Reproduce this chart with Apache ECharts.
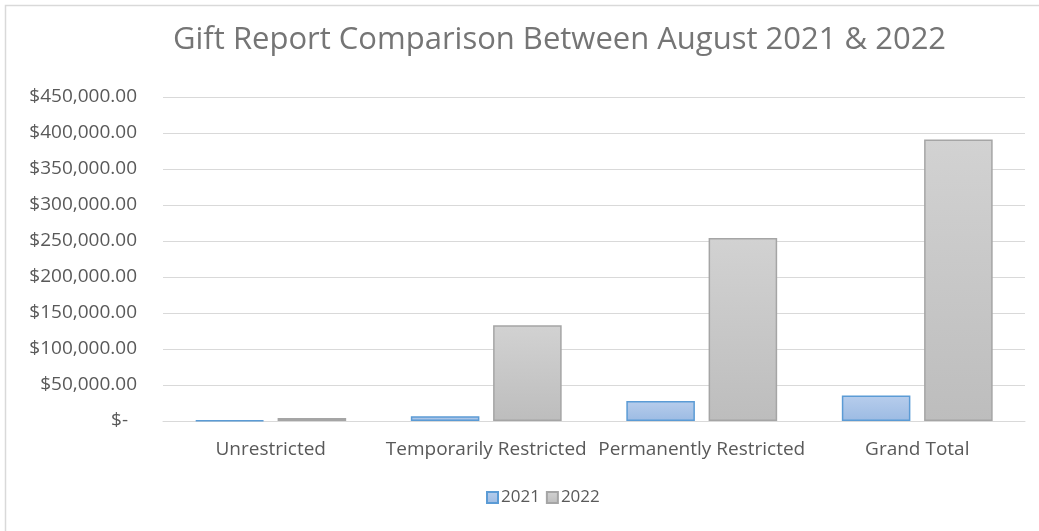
<!DOCTYPE html>
<html>
<head>
<meta charset="utf-8">
<script src="https://cdn.jsdelivr.net/npm/echarts@6/dist/echarts.min.js"></script>
<style>
  html, body { margin: 0; padding: 0; background: #fff; }
  #main { width: 1039px; height: 531px; }
</style>
</head>
<body>
<div id="main"></div>
<script>
var categories = ['Unrestricted', 'Temporarily Restricted', 'Permanently Restricted', 'Grand Total'];
var series2021 = [1000, 6500, 27800, 35300];
var series2022 = [4000, 133000, 254000, 391000];
var yMax = 450000;
var yStep = 50000;

function money(v) {
  if (v === 0) return '{z|$-}';
  return '$' + v.toLocaleString('en-US', { minimumFractionDigits: 2, maximumFractionDigits: 2 });
}

function grad(top, bottom) {
  return new echarts.graphic.LinearGradient(0, 0, 0, 1, [
    { offset: 0, color: top },
    { offset: 1, color: bottom }
  ]);
}

var chart = echarts.init(document.getElementById('main'));
var font = '"Open Sans", "Liberation Sans", sans-serif';

chart.setOption({
  animation: false,
  textStyle: { fontFamily: font },
  title: {
    text: 'Gift Report Comparison Between August 2021 & 2022',
    left: 168,
    top: 20,
    textStyle: { fontSize: 31, fontWeight: 'normal', color: '#757575', fontFamily: font }
  },
  legend: {
    data: ['2021', '2022'],
    bottom: 20,
    left: 481,
    itemWidth: 11,
    itemHeight: 11,
    itemGap: 6,
    icon: 'rect',
    textStyle: { fontSize: 17, color: '#595959', padding: [0, 0, 0, -2] }
  },
  grid: { left: 163, right: 14, top: 97, bottom: 110 },
  xAxis: {
    type: 'category',
    data: categories,
    axisLine: { lineStyle: { color: '#d9d9d9', width: 1 } },
    axisTick: { show: false },
    axisLabel: { fontSize: 19, color: '#595959', margin: 19, interval: 0 }
  },
  yAxis: {
    type: 'value',
    min: 0,
    max: yMax,
    interval: yStep,
    axisLine: { show: false },
    axisTick: { show: false },
    splitLine: { lineStyle: { color: '#d9d9d9', width: 1 } },
    axisLabel: {
      fontSize: 19,
      color: '#595959',
      margin: 26,
      formatter: money,
      rich: { z: { fontSize: 19, color: '#595959', padding: [0, 9, 0, 0] } }
    }
  },
  series: [
    {
      name: '2021',
      type: 'bar',
      data: series2021,
      barGap: '20%',
      barCategoryGap: '30%',
      itemStyle: { color: grad('#b7cdec', '#9cbbe3'), borderColor: '#5b9bd5', borderWidth: 1.5 }
    },
    {
      name: '2022',
      type: 'bar',
      data: series2022,
      itemStyle: { color: grad('#d2d2d2', '#bdbdbd'), borderColor: '#a5a5a5', borderWidth: 1.5 }
    }
  ],
  graphic: [{
    type: 'rect',
    silent: true,
    z: -1,
    shape: { x: 5.5, y: 5.5, width: 1200, height: 700 },
    style: { fill: null, stroke: '#d9d9d9', lineWidth: 1.5 }
  }]
});
</script>
</body>
</html>
